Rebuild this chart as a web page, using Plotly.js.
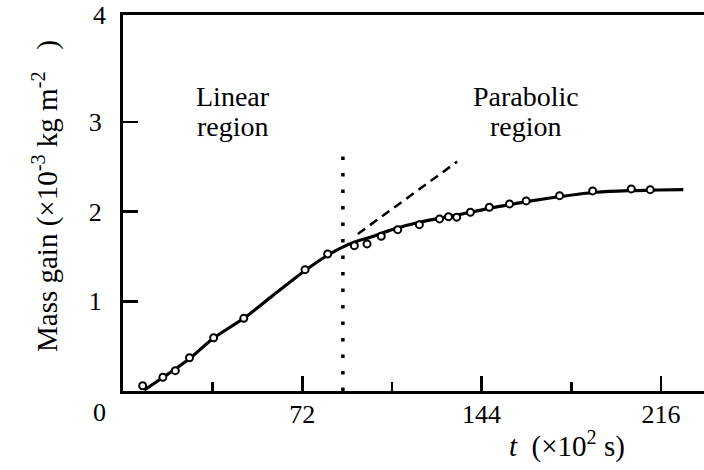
<!DOCTYPE html>
<html>
<head>
<meta charset="utf-8">
<script src="https://cdn.plot.ly/plotly-3.0.1.min.js"></script>
<style>html,body{margin:0;padding:0;background:#fff;}#chart{width:704px;height:470px;}</style>
</head>
<body>
<div id="chart"></div>
<script>
// Measured points: time t (x10^2 s) and mass gain (x10^-3 kg m^-2)
const tPoints = [7.9, 16.0, 21.0, 26.7, 36.4, 48.5, 73.1, 82.2,
  92.9, 98.0, 103.7, 110.3, 119.0, 127.1, 130.7, 134.0, 139.5, 147.1, 155.2, 161.9, 175.3, 188.6, 204.1, 211.7];
const massPoints = [0.059, 0.153, 0.227, 0.371, 0.594, 0.810, 1.352, 1.527,
  1.620, 1.639, 1.724, 1.798, 1.854, 1.918, 1.943, 1.937, 1.992, 2.048, 2.085, 2.118, 2.177, 2.230, 2.252, 2.244];

// Fitted curve
const tCurve = [8.5, 16, 26.7, 36.4, 48.5, 60, 73, 82, 88, 93, 100, 104, 110, 119, 127, 135, 140, 147, 155, 162, 175, 190, 204, 215, 225];
const massCurve = [0.01, 0.15, 0.36, 0.59, 0.81, 1.06, 1.34, 1.51, 1.60, 1.66, 1.72, 1.76, 1.815, 1.88, 1.925, 1.965, 1.995, 2.035, 2.075, 2.11, 2.165, 2.215, 2.233, 2.24, 2.245];

// Linear-region extrapolation (dashed) and the regime boundary (dotted)
const tTangent = [94.3, 134.2];
const massTangent = [1.75, 2.556];
const tBoundary = [88.3, 88.3];
const massBoundary = [0, 2.62];

// Axis ticks
const xMajorTicks = [72, 144, 216];
const xMinorTicks = [36, 108, 180];
const yTicks = [1, 2, 3];

const FONT = "'Liberation Serif', 'Times New Roman', Times, serif";

const traces = [
  {x: tBoundary, y: massBoundary, mode: 'lines', line: {color: '#000', width: 3.5, dash: '3.5px,13px'}, hoverinfo: 'skip'},
  {x: tTangent, y: massTangent, mode: 'lines', line: {color: '#000', width: 2.5, dash: '9px,6px'}, hoverinfo: 'skip'},
  {x: tCurve, y: massCurve, mode: 'lines', line: {color: '#000', width: 3.2, shape: 'spline', smoothing: 0.8}},
  {x: tPoints, y: massPoints, mode: 'markers', marker: {symbol: 'circle', size: 7, color: '#fff', line: {color: '#000', width: 2}}}
];

const layout = {
  width: 704, height: 470,
  margin: {l: 123, r: 0, t: 15, b: 79},
  paper_bgcolor: '#fff', plot_bgcolor: '#fff',
  showlegend: false,
  font: {family: FONT, size: 25, color: '#000'},
  xaxis: {
    range: [0, 233.3],
    tickmode: 'array', tickvals: xMajorTicks,
    ticks: 'inside', ticklen: 15, tickwidth: 2.5, tickcolor: '#000',
    minor: {tickmode: 'array', tickvals: xMinorTicks, ticks: 'inside', ticklen: 9, tickwidth: 2.5, tickcolor: '#000'},
    showline: true, linewidth: 3, linecolor: '#000', mirror: true,
    showgrid: false, zeroline: false,
    tickfont: {family: FONT, size: 26, color: '#000'},
    ticklabelstandoff: -2
  },
  yaxis: {
    range: [0, 4.19],
    tickmode: 'array', tickvals: yTicks,
    ticks: 'inside', ticklen: 15, tickwidth: 2.5, tickcolor: '#000',
    showline: true, linewidth: 3, linecolor: '#000', mirror: false,
    showgrid: false, zeroline: false,
    tickfont: {family: FONT, size: 26, color: '#000'},
    ticklabelstandoff: 13
  },
  annotations: [
    {xref: 'paper', yref: 'paper', x: 0, y: 1, xanchor: 'right', yanchor: 'middle', xshift: -15, text: '4', showarrow: false, font: {family: FONT, size: 26}},
    {xref: 'paper', yref: 'paper', x: 0, y: 0, xanchor: 'right', yanchor: 'top', xshift: -15, yshift: -5, text: '0', showarrow: false, font: {family: FONT, size: 26}},
    {xref: 'x', yref: 'y', x: 44.3, y: 3.28, xanchor: 'center', text: 'Linear', showarrow: false, font: {family: FONT, size: 28}},
    {xref: 'x', yref: 'y', x: 44.3, y: 2.95, xanchor: 'center', text: 'region', showarrow: false, font: {family: FONT, size: 28}},
    {xref: 'x', yref: 'y', x: 162, y: 3.28, xanchor: 'center', text: 'Parabolic', showarrow: false, font: {family: FONT, size: 28}},
    {xref: 'x', yref: 'y', x: 162, y: 2.95, xanchor: 'center', text: 'region', showarrow: false, font: {family: FONT, size: 28}},
    {xref: 'paper', yref: 'paper', x: (567 - 123) / 581, y: 0, yshift: -53, xanchor: 'center', yanchor: 'middle', text: '<i>t</i>  (×10<sup>2</sup> s)', showarrow: false, font: {family: FONT, size: 29}},
    {xref: 'paper', yref: 'paper', x: 0, y: (391 - 196) / 376, xshift: -78, textangle: -90, xanchor: 'center', yanchor: 'middle', text: 'Mass gain (×10<sup>-3</sup> kg m<sup>-2</sup>   )', showarrow: false, font: {family: FONT, size: 29}}
  ]
};

Plotly.newPlot('chart', traces, layout, {displayModeBar: false, staticPlot: true});
</script>
</body>
</html>
